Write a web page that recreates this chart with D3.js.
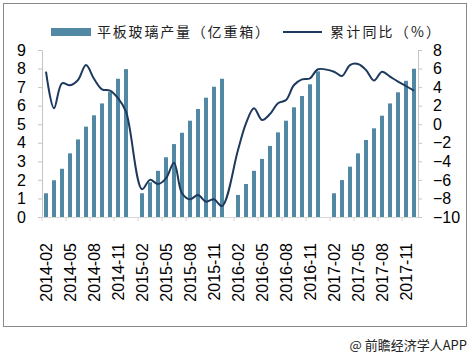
<!DOCTYPE html>
<html><head><meta charset="utf-8">
<script src="https://cdn.jsdelivr.net/npm/d3@7/dist/d3.min.js"></script>
<style>
body{margin:0;background:#fff;}
svg{display:block;font-family:"Liberation Sans",Arial,sans-serif;}
</style></head>
<body><svg id="c" width="473" height="355"></svg>
<script>
const categories = [
 "2014-02","2014-03","2014-04","2014-05","2014-06","2014-07","2014-08","2014-09","2014-10","2014-11","2014-12",
 "2015-01","2015-02","2015-03","2015-04","2015-05","2015-06","2015-07","2015-08","2015-09","2015-10","2015-11","2015-12",
 "2016-01","2016-02","2016-03","2016-04","2016-05","2016-06","2016-07","2016-08","2016-09","2016-10","2016-11","2016-12",
 "2017-01","2017-02","2017-03","2017-04","2017-05","2017-06","2017-07","2017-08","2017-09","2017-10","2017-11","2017-12"];
const output = [
 1.28,1.98,2.60,3.43,4.18,4.87,5.48,6.12,6.73,7.45,7.97,
 null,1.28,1.87,2.49,3.22,3.93,4.54,5.19,5.82,6.43,7.02,7.45,
 null,1.19,1.78,2.49,3.13,3.83,4.56,5.19,5.91,6.52,7.15,7.85,
 null,1.28,1.99,2.71,3.43,4.15,4.78,5.46,6.12,6.72,7.34,7.99];
const yoy = [
 5.66,1.72,4.41,4.2,4.77,6.38,4.9,3.76,3.62,2.8,1.35,
 null,-7.0,-6.0,-6.44,-5.83,-4.14,-7.44,-8.09,-7.63,-8.34,-8.09,-8.81,
 null,-2.78,0.1,1.72,0.46,1.1,2.26,2.61,4.23,4.84,4.95,5.92,
 null,5.66,5.2,6.38,6.49,5.84,4.7,5.66,5.13,4.59,4.12,3.62];
const leftTicks = [0,1,2,3,4,5,6,7,8,9];
const rightTicks = [-10,-8,-6,-4,-2,0,2,4,6,8];
const xTickLabels = categories.filter((d,i)=>i%3===0);
const legendBar = "平板玻璃产量（亿重箱）";
const legendLine = "累计同比（%）";
const footer = "@ 前瞻经济学人APP";

const svg = d3.select("#c");
const L = 42, R = 418, T = 50, B = 217;
const barColor = "#5189a4", lineColor = "#1d3a5e", axisColor = "#c4c4c4";

svg.append("rect").attr("x",3.5).attr("y",3.5).attr("width",463).attr("height",323)
  .attr("fill","none").attr("stroke","#8a8a8a").attr("stroke-width",1);

const x = d3.scaleBand().domain(categories).range([L,R]).paddingInner(0.5).paddingOuter(0.25);
const yL = d3.scaleLinear().domain([0,9]).range([B,T]);
const yR = d3.scaleLinear().domain([-10,8]).range([B,T]);

// bars
svg.append("g").selectAll("rect").data(categories.map((c,i)=>({c,v:output[i]})).filter(d=>d.v!=null))
  .enter().append("rect")
  .attr("x",d=>x(d.c)).attr("width",x.bandwidth())
  .attr("y",d=>yL(d.v)).attr("height",d=>yL(0)-yL(d.v))
  .attr("fill",barColor);

// axes
const ax = (g)=>{g.select(".domain").attr("stroke",axisColor);g.selectAll(".tick line").attr("stroke",axisColor);
  g.selectAll("text").attr("fill","#000").style("font-size","16px").style("font-family","'Liberation Sans',Arial,sans-serif");};
svg.append("g").attr("transform",`translate(${L},0)`)
  .call(d3.axisLeft(yL).tickValues(leftTicks).tickSize(4).tickPadding(12).tickSizeOuter(0)).call(ax);
svg.append("g").attr("transform",`translate(${R},0)`)
  .call(d3.axisRight(yR).tickValues(rightTicks).tickSize(4).tickPadding(12).tickSizeOuter(0)).call(ax)
  .selectAll("text").attr("text-anchor","start").attr("x",15);
const xa = svg.append("g").attr("transform",`translate(0,${B})`)
  .call(d3.axisBottom(x).tickValues(xTickLabels).tickSize(0).tickSizeOuter(0)).call(ax);
xa.select(".domain").attr("stroke","#d6d6d6");
xa.selectAll(".tick text").attr("transform","rotate(-90)").attr("text-anchor","end")
  .attr("x",-26).attr("y",0).attr("dy","0.35em");
// boundary tick marks every 3 categories
xa.selectAll(".btick").data(xTickLabels).enter().append("line")
  .attr("x1",d=>x(d)-x.step()*x.paddingInner()/2).attr("x2",d=>x(d)-x.step()*x.paddingInner()/2)
  .attr("y1",0).attr("y2",4).attr("stroke","#d6d6d6");

// line
const pts = categories.map((c,i)=>({c,v:yoy[i]})).filter(d=>d.v!=null);
svg.append("path").datum(pts)
  .attr("d",d3.line().x(d=>x(d.c)+x.bandwidth()/2).y(d=>yR(d.v)).curve(d3.curveCatmullRom.alpha(0.5)))
  .attr("fill","none").attr("stroke",lineColor).attr("stroke-width",2);

// legend
const lf = "'Noto Sans CJK SC',sans-serif";
svg.append("rect").attr("x",51).attr("y",28).attr("width",40).attr("height",8).attr("fill",barColor);
svg.append("text").attr("x",97).attr("y",32).attr("dy","0.35em").text(legendBar)
  .style("font-family",lf).style("font-size","14px").style("letter-spacing","1.8px").attr("fill","#222");
svg.append("line").attr("x1",283).attr("x2",322).attr("y1",32).attr("y2",32).attr("stroke",lineColor).attr("stroke-width",2);
svg.append("text").attr("x",330).attr("y",32).attr("dy","0.35em").text(legendLine)
  .style("font-family",lf).style("font-size","14px").style("letter-spacing","2.2px").attr("fill","#222");

svg.append("text").attr("x",467).attr("y",345).attr("dy","0.35em").attr("text-anchor","end").text(footer)
  .style("font-family",lf).style("font-size","13px").attr("fill","#222");
</script></body></html>
